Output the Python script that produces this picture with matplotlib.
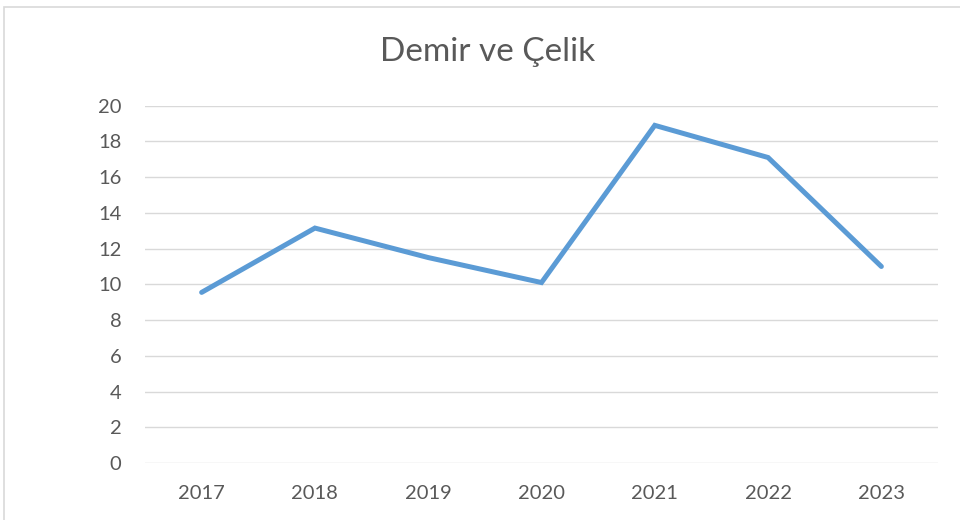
import matplotlib.pyplot as plt
from matplotlib.patches import Rectangle

# Data
years = ['2017', '2018', '2019', '2020', '2021', '2022', '2023']
values = [9.55, 13.15, 11.5, 10.1, 18.9, 17.1, 11.0]

plt.rcParams['font.family'] = ['Lato', 'DejaVu Sans']

fig = plt.figure(figsize=(9.6, 5.2), dpi=100)
ax = fig.add_axes([145 / 960, 1 - 463 / 520, (938 - 145) / 960, (463 - 105.7) / 520])

# Outer chart frame (light gray, runs off the right/bottom edge)
fig.patches.append(Rectangle((4 / 960, -0.1), 1.1, 1 - 7 / 520 + 0.1,
                             transform=fig.transFigure, fill=False,
                             edgecolor='#D9D9D9', linewidth=1.2))

x = range(len(years))
ax.plot(x, values, color='#5B9BD5', linewidth=3.6, solid_capstyle='round',
        solid_joinstyle='miter')

ax.set_xlim(-0.5, len(years) - 0.5)
ax.set_ylim(0, 20)
ax.set_yticks(range(0, 21, 2))
ax.set_xticks(list(x))
ax.set_xticklabels(years)

ax.grid(axis='y', color='#D9D9D9', linewidth=1.0)
ax.set_axisbelow(True)
for s in ax.spines.values():
    s.set_visible(False)
ax.tick_params(axis='both', length=0, labelsize=14.5, colors='#595959')
ax.tick_params(axis='y', pad=17)
ax.tick_params(axis='x', pad=16)

fig.text(488 / 960, 1 - 52 / 520, 'Demir ve Çelik', ha='center', va='center',
         fontsize=24, color='#595959')

fig.savefig('out.png', dpi=100)
